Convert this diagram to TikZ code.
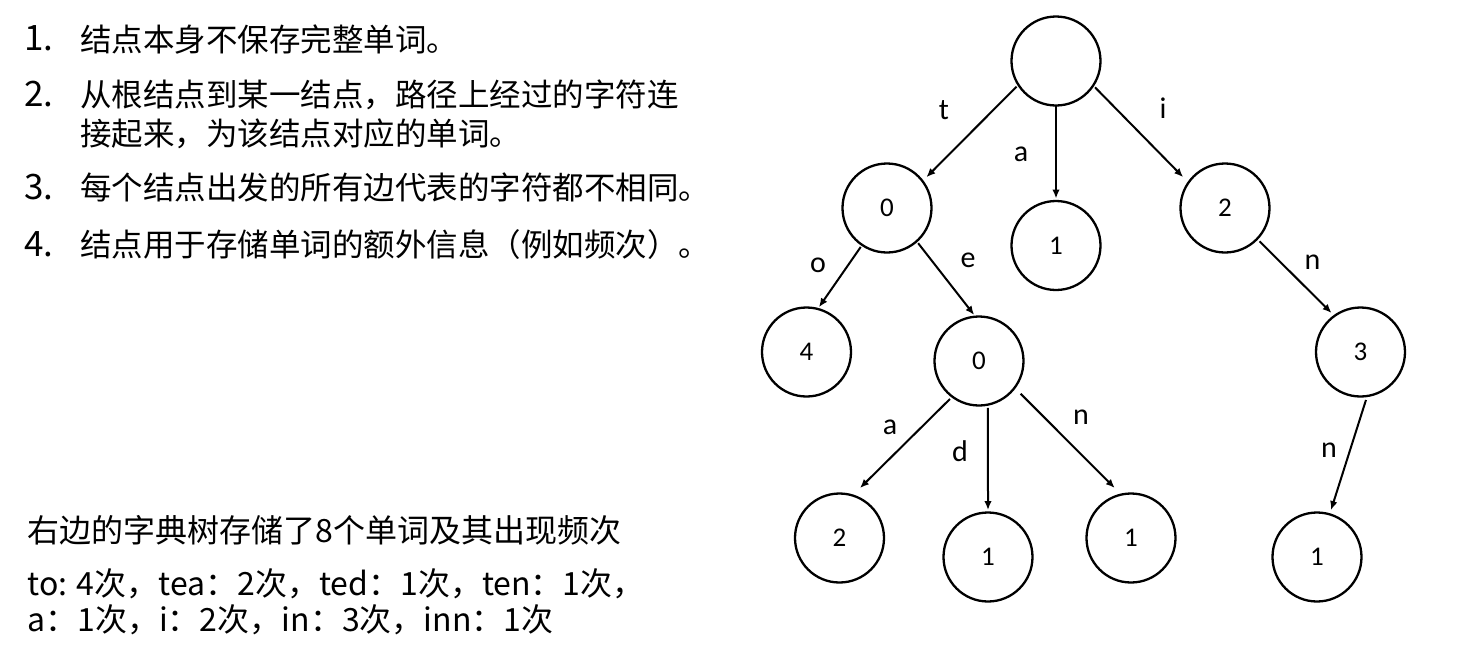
\documentclass[tikz,border=0pt]{standalone}
\usepackage{fontspec}
\setmainfont{Noto Sans CJK SC}
\newfontfamily\carl{Carlito}
\usetikzlibrary{arrows.meta}
\tikzset{
  trie/.style={circle,draw,line width=1.15pt,minimum size=44.5pt,inner sep=0pt,font=\carl\fontsize{13.5}{15}\selectfont},
  edge/.style={-{Latex[length=4.5pt,width=3.8pt]},line width=1pt},
  elabel/.style={font=\carl\fontsize{15}{17}\selectfont,inner sep=0pt},
  txt/.style={anchor=base west,inner sep=0pt,font=\fontsize{15.75}{18}\selectfont},
  btxt/.style={anchor=base west,inner sep=0pt,font=\fontsize{16}{18}\selectfont},
  num/.style={anchor=base west,inner sep=0pt,font=\fontsize{17.5}{20}\selectfont},
}
\begin{document}
\begin{tikzpicture}[x=0.5pt,y=-0.5pt]
\useasboundingbox (0,0) rectangle (1474,654);
% left text
\node[num] (n1) at (24,50) {1.};
\node[txt] (l1) at (80,51) {结点本身不保存完整单词。};
\node[num] (n2) at (24,106) {2.};
\node[txt] (l2) at (80,106) {从根结点到某一结点，路径上经过的字符连};
\node[txt] (l2b) at (80,145.5) {接起来，为该结点对应的单词。};
\node[num] (n3) at (24,199.5) {3.};
\node[txt] (l3) at (80,199.5) {每个结点出发的所有边代表的字符都不相同。};
\node[num] (n4) at (24,256.5) {4.};
\node[txt] (l4) at (80,256.5) {结点用于存储单词的额外信息（例如频次）。};
\node[btxt] (b1) at (27,542) {右边的字典树存储了8个单词及其出现频次};
\node[btxt] (b2) at (27,595) {to: 4次，tea：2次，ted：1次，ten：1次，};
\node[btxt] (b3) at (27,631) {a：1次，i：2次，in：3次，inn：1次};
% tree nodes
\node[trie] (root) at (1056,61) {};
\node[trie] (t) at (887,208) {0};
\node[trie] (a) at (1056,245.5) {1};
\node[trie] (i) at (1225,208) {2};
\node[trie] (to) at (806.5,352) {4};
\node[trie] (te) at (979,361) {0};
\node[trie] (in) at (1360.5,352) {3};
\node[trie] (tea) at (839.5,538) {2};
\node[trie] (ted) at (988,557) {1};
\node[trie] (ten) at (1131,538) {1};
\node[trie] (inn) at (1317,557) {1};
% edges (angles measured with y pointing down)
\draw[edge] ([shift={(147:47)}]root.center) -- ([shift={(-38:50)}]t.center);
\draw[edge] ([shift={(90:45)}]root.center) -- ([shift={(-90:47)}]a.center);
\draw[edge] ([shift={(34:47)}]root.center) -- ([shift={(-143.6:52)}]i.center);
\draw[edge] ([shift={(124:47)}]t.center) -- ([shift={(-74.5:46.5)}]to.center);
\draw[edge] ([shift={(48.5:47)}]t.center) -- ([shift={(-96:46.3)}]te.center);
\draw[edge] ([shift={(44:48)}]i.center) -- ([shift={(-126.6:48.6)}]in.center);
\draw[edge] ([shift={(127.4:47.8)}]te.center) -- ([shift={(-67.7:54)}]tea.center);
\draw[edge] ([shift={(79.2:47.8)}]te.center) -- ([shift={(-90:47)}]ted.center);
\draw[edge] ([shift={(38.2:53)}]te.center) -- ([shift={(-108:52.6)}]ten.center);
\draw[edge] ([shift={(83.5:48.3)}]in.center) -- ([shift={(-73.4:49)}]inn.center);
% edge labels
\node[elabel] (lt) at (944,110) {t};
\node[elabel] (la) at (1021,154) {a};
\node[elabel] (li) at (1163,108) {i};
\node[elabel] (lo) at (818,265) {o};
\node[elabel] (le) at (968,260) {e};
\node[elabel] (lin) at (1312.5,262) {n};
\node[elabel] (lea) at (890,427) {a};
\node[elabel] (led) at (960,451) {d};
\node[elabel] (len) at (1081,417) {n};
\node[elabel] (linn) at (1329,450) {n};
\end{tikzpicture}
\end{document}
